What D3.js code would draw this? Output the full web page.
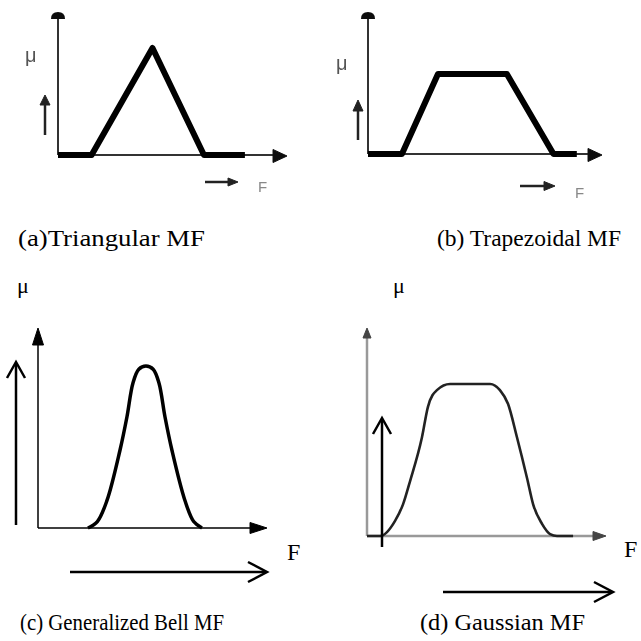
<!DOCTYPE html>
<html><head><meta charset="utf-8">
<script src="https://cdn.jsdelivr.net/npm/d3@7"></script>
<style>html,body{margin:0;padding:0;background:#fff}
.serif{font-family:"Liberation Serif","Times New Roman",Times,Tinos,"DejaVu Serif",serif}
.sans{font-family:"Liberation Sans",Arial,sans-serif}</style>
</head><body>
<svg id="chart" width="641" height="641"></svg>
<script>
// ---- data ----
const captions = ["(a)Triangular MF", "(b) Trapezoidal MF", "(c) Generalized Bell MF", "(d) Gaussian MF"];
const yLabel = "μ";
const xLabel = "F";
const triX = [0, 1.6, 4.5, 6.95, 8.9];
const triY = [0, 0, 1, 0, 0];
const trapX = [0, 1.6, 3.3, 6.55, 8.75, 9.85];
const trapY = [0, 0, 1, 1, 0, 0];
const bellX = [2.23, 2.65, 3.08, 3.66, 3.97, 4.24, 4.5, 4.82, 5.14, 5.4, 5.67, 5.98, 6.56, 6.95, 7.32];
const bellY = [0, 0.04, 0.17, 0.48, 0.685, 0.895, 0.98, 1, 0.98, 0.895, 0.685, 0.48, 0.17, 0.04, 0];
const gaussX = [0, 0.57, 1.22, 1.57, 1.87, 2.39, 2.65, 3.04, 3.61, 5.35, 5.78, 6.13, 6.52, 6.96, 7.22, 7.61, 7.96, 8.26, 8.96];
const gaussY = [0, 0, 0.1, 0.21, 0.36, 0.65, 0.85, 0.96, 1, 1, 0.96, 0.87, 0.65, 0.38, 0.21, 0.08, 0.013, 0, 0];

// ---- layout ----
const svg = d3.select("#chart");
const defs = svg.append("defs");
defs.append("filter").attr("id", "soft").append("feGaussianBlur").attr("stdDeviation", 0.6);

const panels = [
  {xs: triX, ys: triY, xr: [58, 268], yr: [155, 48], xTip: 287, yTip: 13, curve: d3.curveLinear,
   lw: 6, lc: "#000", aw: 2, ac: "#333", blur: true},
  {xs: trapX, ys: trapY, xr: [368, 580], yr: [154, 74], xTip: 602, yTip: 13, curve: d3.curveLinear,
   lw: 6, lc: "#000", aw: 2, ac: "#333", blur: true},
  {xs: bellX, ys: bellY, xr: [38, 262], yr: [528, 366], xTip: 267, yTip: 328, curve: d3.curveCatmullRom,
   lw: 3.5, lc: "#000", aw: 1.5, ac: "#000", blur: false},
  {xs: gaussX, ys: gaussY, xr: [367, 597], yr: [536, 384], xTip: 606, yTip: 328, curve: d3.curveMonotoneX,
   lw: 2.6, lc: "#222", aw: 2.5, ac: "#999", blur: true}
];

function filledHead(g, x, y, dir, len, half, color) {
  let pts;
  if (dir === "up") pts = [[x, y], [x - half, y + len], [x + half, y + len]];
  else pts = [[x, y], [x - len, y - half], [x - len, y + half]];
  g.append("path").attr("d", d3.line()(pts) + "Z").attr("fill", color)
    .attr("stroke", color).attr("stroke-width", 1).attr("stroke-linejoin", "round");
}
function openHead(g, x, y, dir, len, half, color, w) {
  let pts;
  if (dir === "up") pts = [[x - half, y + len], [x, y], [x + half, y + len]];
  else pts = [[x - len, y - half], [x, y], [x - len, y + half]];
  g.append("path").attr("d", d3.line()(pts)).attr("fill", "none")
    .attr("stroke", color).attr("stroke-width", w);
}

panels.forEach((p, i) => {
  const g = svg.append("g");
  if (p.blur) g.attr("filter", "url(#soft)");
  const x = d3.scaleLinear().domain([0, 10]).range(p.xr);
  const y = d3.scaleLinear().domain([0, 1]).range(p.yr);
  const ox = x(0), oy = y(0);
  g.append("line").attr("x1", ox).attr("y1", oy).attr("x2", p.xTip - 4).attr("y2", oy)
    .attr("stroke", p.ac).attr("stroke-width", p.aw);
  g.append("line").attr("x1", ox).attr("y1", oy).attr("x2", ox).attr("y2", p.yTip + 4)
    .attr("stroke", p.ac).attr("stroke-width", p.aw);
  const data = p.xs.map((v, k) => [v, p.ys[k]]);
  g.append("path").datum(data)
    .attr("d", d3.line().x(d => x(d[0])).y(d => y(d[1])).curve(p.curve))
    .attr("fill", "none").attr("stroke", p.lc).attr("stroke-width", p.lw)
    .attr("stroke-linejoin", "round").attr("stroke-linecap", "butt");
});

// ---- decorations ----
const gA = svg.append("g").attr("filter", "url(#soft)");
// (a)
filledHead(gA, 287, 156, "right", 14, 6.5, "#111");
gA.append("path").attr("d", "M51,19 Q51,12 58,12 Q65,12 65,19 Z").attr("fill", "#111");
gA.append("text").attr("class", "sans").attr("x", 25).attr("y", 62).text(yLabel)
  .attr("font-size", 20).attr("fill", "#555");
gA.append("line").attr("x1", 45).attr("y1", 135).attr("x2", 45).attr("y2", 103).attr("stroke", "#222").attr("stroke-width", 2.5);
filledHead(gA, 45, 95, "up", 10, 5, "#222");
gA.append("line").attr("x1", 205).attr("y1", 182).attr("x2", 229).attr("y2", 182).attr("stroke", "#222").attr("stroke-width", 2.5);
filledHead(gA, 238, 182, "right", 10, 4, "#222");
gA.append("text").attr("class", "sans").attr("x", 258).attr("y", 192).text(xLabel)
  .attr("font-size", 15).attr("fill", "#888");
// (b)
filledHead(gA, 602, 155, "right", 14, 6.5, "#111");
gA.append("path").attr("d", "M361,19 Q361,12 368,12 Q375,12 375,19 Z").attr("fill", "#111");
gA.append("text").attr("class", "sans").attr("x", 336).attr("y", 70).text(yLabel)
  .attr("font-size", 20).attr("fill", "#555");
gA.append("line").attr("x1", 358).attr("y1", 140).attr("x2", 358).attr("y2", 108).attr("stroke", "#222").attr("stroke-width", 2.5);
filledHead(gA, 358, 100, "up", 11, 5, "#222");
gA.append("line").attr("x1", 520).attr("y1", 186).attr("x2", 545).attr("y2", 186).attr("stroke", "#222").attr("stroke-width", 2.5);
filledHead(gA, 555, 186, "right", 11, 4.5, "#222");
gA.append("text").attr("class", "sans").attr("x", 575).attr("y", 198).text(xLabel)
  .attr("font-size", 15).attr("fill", "#888");

// (c)
const gC = svg.append("g");
filledHead(gC, 267, 528, "right", 17, 5.5, "#000");
filledHead(gC, 38, 328, "up", 17, 5.5, "#000");
gC.append("text").attr("class", "serif").attr("x", 17).attr("y", 293).text(yLabel).attr("font-size", 22);
gC.append("line").attr("x1", 16).attr("y1", 525).attr("x2", 16).attr("y2", 363).attr("stroke", "#000").attr("stroke-width", 2.5);
openHead(gC, 16, 362, "up", 16, 9, "#000", 2.5);
gC.append("line").attr("x1", 70).attr("y1", 572).attr("x2", 266).attr("y2", 572).attr("stroke", "#000").attr("stroke-width", 2.5);
openHead(gC, 267, 572, "right", 19, 10, "#000", 2.5);
gC.append("text").attr("class", "serif").attr("x", 287).attr("y", 560).text(xLabel).attr("font-size", 24);
// (d)
const gD = svg.append("g");
filledHead(gD.append("g").attr("filter", "url(#soft)"), 606, 536, "right", 13, 4.5, "#444");
filledHead(gD.append("g").attr("filter", "url(#soft)"), 367, 328, "up", 10, 4, "#444");
gD.append("text").attr("class", "serif").attr("x", 393).attr("y", 293).text(yLabel).attr("font-size", 22);
gD.append("line").attr("x1", 382).attr("y1", 547).attr("x2", 382).attr("y2", 419).attr("stroke", "#000").attr("stroke-width", 2.5);
openHead(gD, 382, 418, "up", 16, 9, "#000", 2.5);
gD.append("line").attr("x1", 443).attr("y1", 592).attr("x2", 612).attr("y2", 592).attr("stroke", "#000").attr("stroke-width", 2.5);
openHead(gD, 613, 592, "right", 19, 10, "#000", 2.5);
gD.append("text").attr("class", "serif").attr("x", 624).attr("y", 557).text(xLabel).attr("font-size", 24);

// captions
const capPos = [[18, 246], [437, 246], [20, 630], [420, 630]];
const capSize = [24, 24, 23, 23];
const capLen = [187, 184, 204, 165];
captions.forEach((c, i) => {
  svg.append("text").attr("class", "serif").attr("x", capPos[i][0]).attr("y", capPos[i][1]).text(c)
    .attr("font-size", capSize[i]).attr("fill", "#000")
    .attr("textLength", capLen[i]).attr("lengthAdjust", "spacingAndGlyphs");
});
</script>
</body></html>
